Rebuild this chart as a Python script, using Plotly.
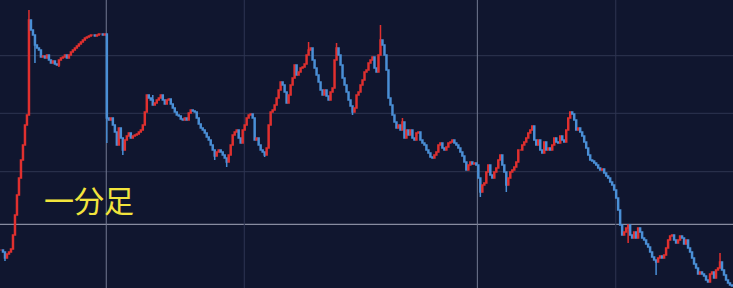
import plotly.graph_objects as go

# Close prices (arbitrary units), one-minute bars
closes = [
    50, 48, 42, 46, 48, 51, 65, 85, 105, 122, 140, 155, 175, 185, 280, 270, 265, 255, 252, 250,
    243, 244, 242, 245, 240, 237, 239, 236, 235, 240, 242, 243, 245, 242, 245, 248, 250, 252, 254, 256,
    258, 260, 262, 263, 264, 265, 265, 264, 265, 266, 266, 265, 266, 182, 180, 182, 175, 168, 155, 172,
    162, 150, 160, 164, 167, 162, 164, 165, 166, 168, 170, 175, 188, 205, 202, 200, 195, 197, 200, 202,
    205, 200, 196, 200, 201, 196, 192, 188, 185, 184, 181, 180, 182, 180, 187, 190, 189, 188, 182, 176,
    172, 170, 167, 163, 160, 155, 150, 144, 148, 150, 148, 145, 142, 138, 145, 155, 165, 168, 170, 162,
    157, 170, 175, 182, 185, 186, 182, 160, 162, 155, 150, 148, 145, 152, 175, 188, 190, 195, 202, 210,
    218, 215, 208, 197, 205, 215, 222, 235, 225, 228, 232, 233, 236, 245, 250, 252, 240, 232, 225, 218,
    210, 205, 210, 204, 200, 208, 212, 240, 252, 245, 235, 222, 215, 208, 200, 194, 188, 192, 205, 208,
    215, 220, 228, 230, 237, 240, 243, 232, 228, 245, 260, 255, 245, 230, 202, 195, 185, 178, 172, 175,
    170, 178, 162, 170, 165, 170, 162, 160, 167, 168, 160, 157, 155, 150, 147, 143, 142, 145, 148, 155,
    157, 152, 150, 153, 157, 158, 160, 157, 155, 152, 148, 144, 138, 130, 135, 138, 136, 137, 135, 122,
    108, 115, 117, 128, 135, 125, 122, 128, 132, 140, 145, 135, 128, 115, 122, 128, 130, 133, 138, 150,
    150, 155, 158, 162, 167, 170, 174, 160, 155, 160, 150, 147, 158, 150, 152, 150, 155, 162, 158, 157,
    164, 160, 158, 170, 182, 188, 186, 180, 170, 172, 168, 164, 158, 152, 145, 140, 139, 137, 135, 132,
    130, 131, 127, 124, 122, 118, 115, 110, 102, 90, 75, 65, 68, 72, 75, 65, 62, 68, 62, 72,
    68, 62, 60, 56, 53, 48, 43, 40, 38, 42, 44, 42, 45, 52, 60, 64, 65, 60, 57, 60,
    64, 62, 56, 60, 52, 48, 42, 36, 32, 26, 28, 26, 24, 20, 18, 26, 28, 22, 30, 32,
    38, 30, 25, 20, 17, 15, 14,
]

# Isolated wick extremes (bar index -> price)
spike_high = {14: 290, 76: 205, 154: 258, 168: 257, 190: 275, 201: 182, 360: 47}
spike_low = {2: 39, 17: 237, 29: 233, 53: 157, 61: 145, 107: 140, 113: 133, 132: 143,
             176: 185, 240: 103, 253: 108, 314: 57, 328: 25}

n = len(closes)
idx = list(range(n))
opens = [closes[0]] + closes[:-1]
highs = [max(o, c) for o, c in zip(opens, closes)]
lows = [min(o, c) for o, c in zip(opens, closes)]
for k, v in spike_high.items():
    highs[k] = max(highs[k], v)
for k, v in spike_low.items():
    lows[k] = min(lows[k], v)

BG = "#10162f"
UP = "#e0302f"
DOWN = "#4a8fd6"

fig = go.Figure(go.Candlestick(
    x=idx, open=opens, high=highs, low=lows, close=closes,
    increasing=dict(line=dict(color=UP, width=1.5), fillcolor=UP),
    decreasing=dict(line=dict(color=DOWN, width=1.5), fillcolor=DOWN),
    whiskerwidth=0, hoverinfo="skip",
))

# grid lines
for gy in [244.3, 186.7, 128.3]:
    fig.add_shape(type="line", xref="paper", x0=0, x1=1, yref="y", y0=gy, y1=gy,
                  line=dict(color="#2e3552", width=1), layer="below")
fig.add_shape(type="line", xref="paper", x0=0, x1=1, yref="y", y0=75.7, y1=75.7,
              line=dict(color="#a7abbd", width=1), layer="below")
for gx in [121.8, 307.8]:
    fig.add_shape(type="line", yref="paper", y0=0, y1=1, xref="x", x0=gx, x1=gx,
                  line=dict(color="#2e3552", width=1), layer="below")
for gx in [52.7, 238.5]:
    fig.add_shape(type="line", yref="paper", y0=0, y1=1, xref="x", x0=gx, x1=gx,
                  line=dict(color="#737a92", width=1), layer="below")

fig.add_annotation(text="一分足", xref="paper", yref="paper", x=0.121, y=0.31,
                   showarrow=False, xanchor="center", yanchor="middle",
                   font=dict(family="Noto Sans CJK JP", size=30, color="#f2e43c"))

fig.update_layout(
    width=733, height=288, margin=dict(l=0, r=0, t=0, b=0),
    paper_bgcolor=BG, plot_bgcolor=BG, showlegend=False,
    xaxis=dict(range=[-0.5, n - 0.5], showgrid=False, zeroline=False, showticklabels=False,
               rangeslider=dict(visible=False), fixedrange=True),
    yaxis=dict(range=[12, 300], showgrid=False, zeroline=False, showticklabels=False, fixedrange=True),
)

fig.write_html("out.html")
